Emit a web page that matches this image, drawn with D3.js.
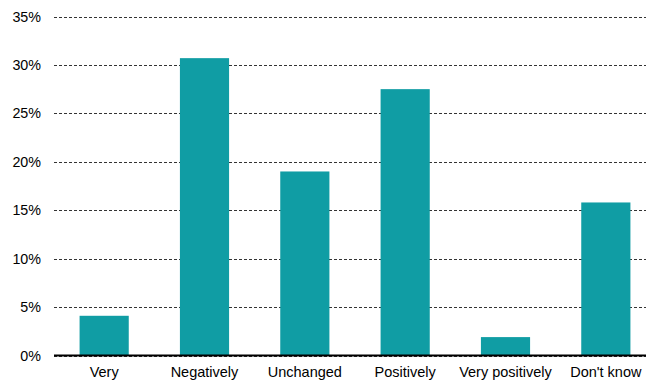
<!DOCTYPE html>
<html>
<head>
<meta charset="utf-8">
<script src="https://cdn.jsdelivr.net/npm/d3@7"></script>
<style>
  html, body { margin: 0; padding: 0; background: #fff; overflow: hidden; }
  svg { display: block; font-family: "Liberation Sans", Arial, sans-serif; }
</style>
</head>
<body>
<svg id="chart" width="646" height="381"></svg>
<script>
// Share of responses per answer option
const categories = ["Very negatively", "Negatively", "Unchanged", "Positively", "Very positively", "Don't know"];
const tickLabels = ["Very", "Negatively", "Unchanged", "Positively", "Very positively", "Don't know"];
const values = [4.1, 30.7, 19.0, 27.5, 1.9, 15.8];
const yTicks = [0, 5, 10, 15, 20, 25, 30, 35];

(function draw() {
  const svg = d3.select("#chart");
  const W = 646;
  const m = { left: 54, right: 656, top: 16.5, bottom: 355.5 };

  const x = d3.scaleBand()
    .domain(categories)
    .range([m.left, m.right])
    .paddingInner(0.51)
    .paddingOuter(0.255);

  const y = d3.scaleLinear().domain([0, 35]).range([m.bottom, m.top]);

  // Horizontal dashed grid with percentage labels
  const yAxis = d3.axisLeft(y)
    .tickValues(yTicks)
    .tickFormat(d => d + "%")
    .tickSize(-(W - m.left))
    .tickPadding(13);

  const gy = svg.append("g")
    .attr("transform", `translate(${m.left},0)`)
    .call(yAxis);
  gy.select(".domain").remove();
  gy.selectAll(".tick line")
    .attr("stroke", "#333")
    .attr("stroke-width", 1)
    .attr("stroke-dasharray", "3,2")
    .attr("shape-rendering", "crispEdges");
  gy.selectAll(".tick text")
    .attr("fill", "#000")
    .attr("font-size", 14.3)
    .attr("font-family", "'Liberation Sans', Arial, sans-serif");

  // Bars
  svg.append("g").selectAll("rect")
    .data(values)
    .join("rect")
    .attr("x", (d, i) => x(categories[i]))
    .attr("width", x.bandwidth())
    .attr("y", d => y(d))
    .attr("height", d => y(0) - y(d))
    .attr("fill", "#109da4");

  // Baseline
  svg.append("line")
    .attr("x1", m.left).attr("x2", W)
    .attr("y1", y(0)).attr("y2", y(0))
    .attr("stroke", "#000")
    .attr("stroke-width", 2);

  // Category labels
  svg.append("g").selectAll("text")
    .data(categories)
    .join("text")
    .attr("x", c => x(c) + x.bandwidth() / 2)
    .attr("y", 377)
    .attr("text-anchor", "middle")
    .attr("font-size", 14.5)
    .attr("fill", "#000")
    .text((c, i) => tickLabels[i]);
})();
</script>
</body>
</html>
